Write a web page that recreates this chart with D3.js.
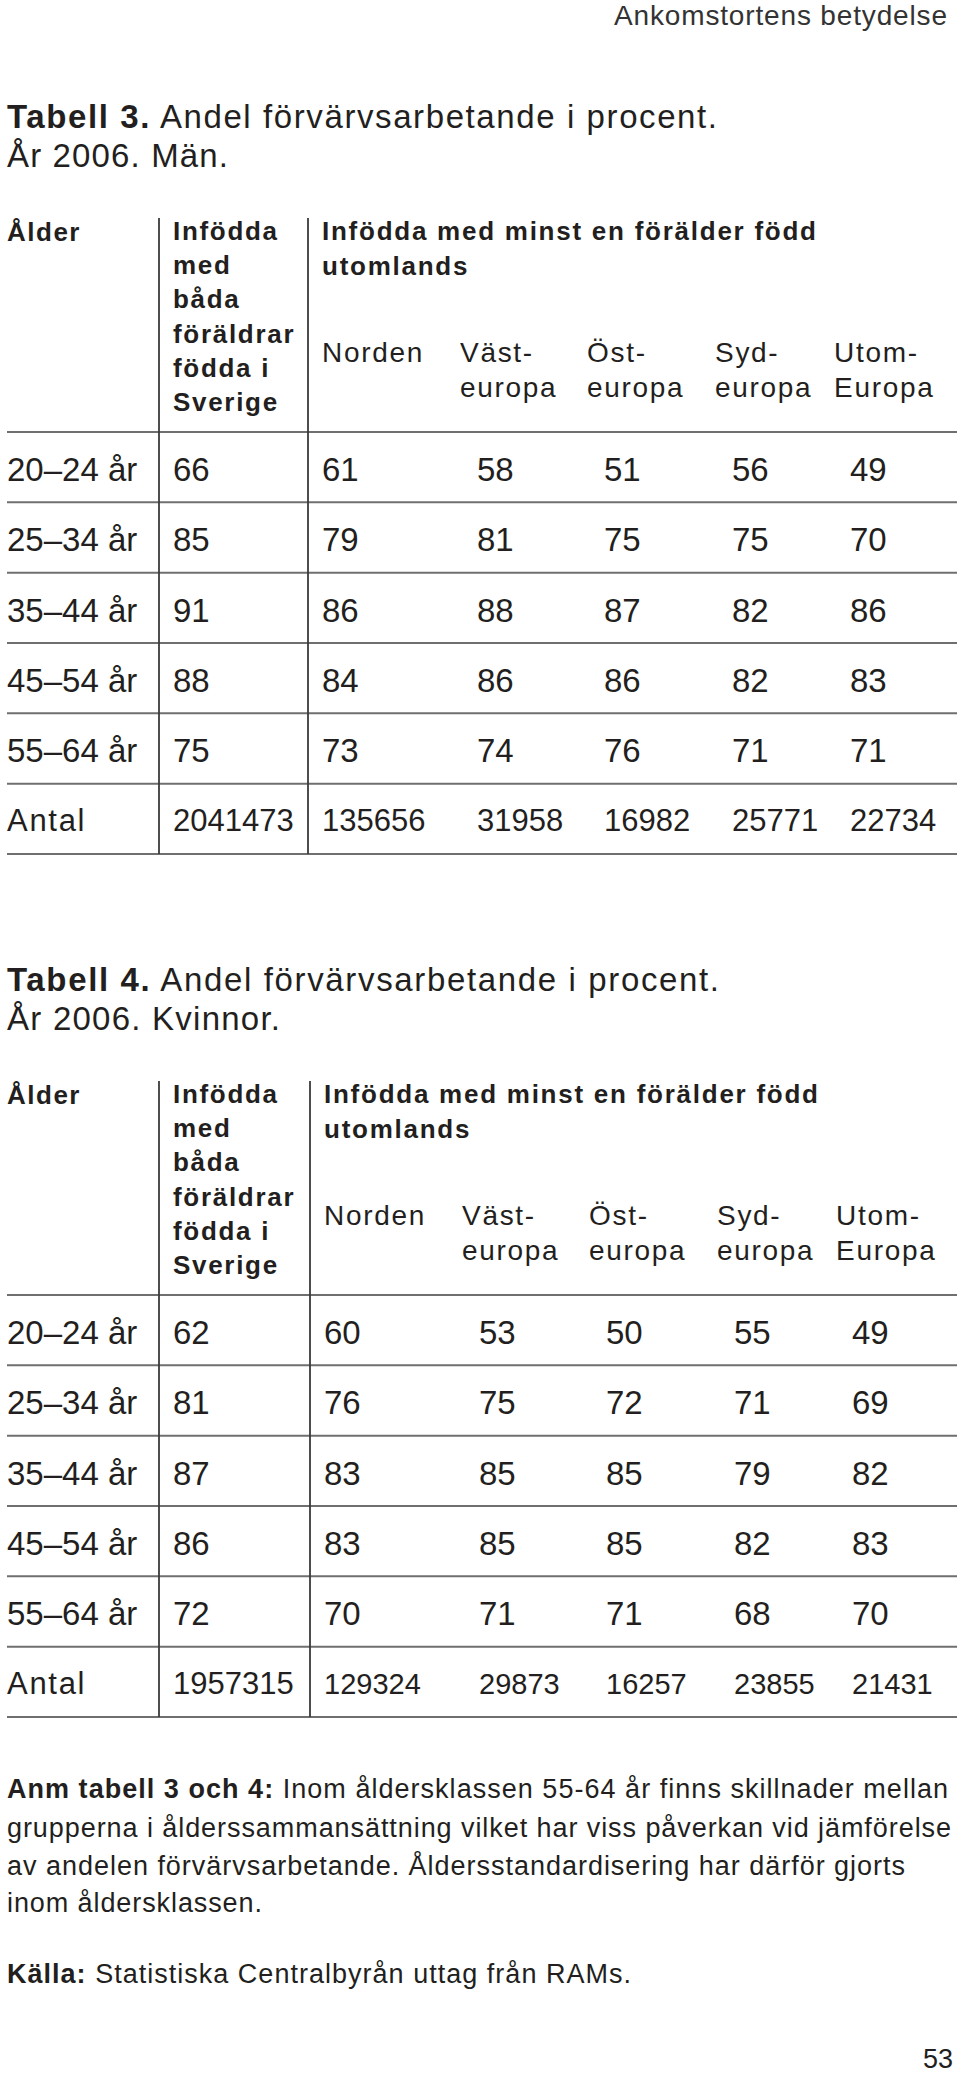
<!DOCTYPE html>
<html>
<head>
<meta charset="utf-8">
<script src="https://cdn.jsdelivr.net/npm/d3@7"></script>
<style>
  html, body { margin: 0; padding: 0; background: #fff; }
  svg { display: block; }
  text { font-family: "Liberation Sans", Arial, Helvetica, sans-serif; fill: #231f20; }
</style>
</head>
<body>
<svg id="chart" width="960" height="2075"></svg>
<script>
// ---------- DATA ----------
const pageHeader = "Ankomstortens betydelse";
const pageNumber = "53";

const ageGroups = ["20–24 år", "25–34 år", "35–44 år", "45–54 år", "55–64 år"];
const countLabel = "Antal";
const columns = ["Sverige", "Norden", "Västeuropa", "Östeuropa", "Sydeuropa", "Utom-Europa"];

const firstColHeader = ["Infödda", "med", "båda", "föräldrar", "födda i", "Sverige"];
const groupHeader = ["Infödda med minst en förälder född", "utomlands"];
const subHeaders = [["Norden"], ["Väst-", "europa"], ["Öst-", "europa"], ["Syd-", "europa"], ["Utom-", "Europa"]];

// Tabell 3 – Män (rows = age groups, columns as above)
const menValues = [
  [66, 61, 58, 51, 56, 49],
  [85, 79, 81, 75, 75, 70],
  [91, 86, 88, 87, 82, 86],
  [88, 84, 86, 86, 82, 83],
  [75, 73, 74, 76, 71, 71]
];
const menCounts = [2041473, 135656, 31958, 16982, 25771, 22734];

// Tabell 4 – Kvinnor
const womenValues = [
  [62, 60, 53, 50, 55, 49],
  [81, 76, 75, 72, 71, 69],
  [87, 83, 85, 85, 79, 82],
  [86, 83, 85, 85, 82, 83],
  [72, 70, 71, 71, 68, 70]
];
const womenCounts = [1957315, 129324, 29873, 16257, 23855, 21431];

const tables = [
  { number: "Tabell 3.", title: " Andel förvärvsarbetande i procent.", sub: "År 2006. Män.",
    values: menValues, counts: menCounts },
  { number: "Tabell 4.", title: " Andel förvärvsarbetande i procent.", sub: "År 2006. Kvinnor.",
    values: womenValues, counts: womenCounts }
];

const noteBold = "Anm tabell 3 och 4:";
const noteLines = [
  " Inom åldersklassen 55-64 år finns skillnader mellan",
  "grupperna i ålderssammansättning vilket har viss påverkan vid jämförelse",
  "av andelen förvärvsarbetande. Åldersstandardisering har därför gjorts",
  "inom åldersklassen."
];
const sourceBold = "Källa:";
const sourceText = " Statistiska Centralbyrån uttag från RAMs.";

// ---------- LAYOUT ----------
const svg = d3.select("#chart");
const L = 7, R = 957;
const tableTops = [432, 1295];
const rowH = 70.33;
const shifts = [0, 2];

// page header
svg.append("text")
  .attr("x", 947).attr("y", 25)
  .attr("text-anchor", "end")
  .attr("font-size", 28)
  .attr("textLength", 333).attr("lengthAdjust", "spacing")
  .style("fill", "#333")
  .text(pageHeader);

function drawTable(t, ti) {
  const top = tableTops[ti];
  const sh = shifts[ti];
  const g = svg.append("g");
  const rows = [...ageGroups, countLabel];

  const y = d3.scaleBand().domain(rows).range([top, top + rowH * rows.length]);
  const xData = d3.scaleOrdinal().domain(columns).range([173, 322 + sh, 477 + sh, 604 + sh, 732 + sh, 850 + sh]);
  const xSub = d3.scaleOrdinal().domain(columns.slice(1)).range([322 + sh, 460 + sh, 587 + sh, 715 + sh, 834 + sh]);
  const vLines = [159, 308 + sh];

  // title
  const tt = g.append("text").attr("x", L).attr("y", top - 304).attr("font-size", 33)
    .attr("textLength", 710 + ti * 2).attr("lengthAdjust", "spacing");
  tt.append("tspan").attr("font-weight", "bold").text(t.number);
  tt.append("tspan").text(t.title);
  g.append("text").attr("x", L).attr("y", top - 265).attr("font-size", 33)
    .attr("textLength", ti === 0 ? 221 : 273).attr("lengthAdjust", "spacing")
    .text(t.sub);

  // header: Ålder
  g.append("text").attr("x", L).attr("y", top - 191)
    .attr("font-size", 26).attr("font-weight", "bold").attr("letter-spacing", 1.5)
    .text("Ålder");

  // first column header
  g.selectAll(".fch").data(firstColHeader).join("text")
    .attr("x", 173).attr("y", (d, i) => top - 192 + i * 34.2)
    .attr("font-size", 26).attr("font-weight", "bold").attr("letter-spacing", 1.7)
    .text(d => d);

  // group header
  g.selectAll(".gh").data(groupHeader).join("text")
    .attr("x", 322 + sh).attr("y", (d, i) => top - 192 + i * 34.6)
    .attr("font-size", 26).attr("font-weight", "bold").attr("letter-spacing", 1.75)
    .text(d => d);

  // sub headers
  subHeaders.forEach((lines, ci) => {
    g.selectAll(null).data(lines).join("text")
      .attr("x", xSub(columns[ci + 1])).attr("y", (d, i) => top - 70 + i * 34.5)
      .attr("font-size", 28).attr("letter-spacing", 1.7)
      .text(d => d);
  });

  // horizontal lines (header bottom + after each row)
  const hl = [top, ...rows.map(r => y(r) + y.bandwidth())];
  g.selectAll(".hl").data(hl).join("line")
    .attr("x1", L).attr("x2", R).attr("y1", d => d).attr("y2", d => d)
    .attr("stroke", "#6f6f6f").attr("stroke-width", 2);

  // vertical lines
  g.selectAll(".vl").data(vLines).join("line")
    .attr("x1", d => d).attr("x2", d => d)
    .attr("y1", top - 214).attr("y2", y(countLabel) + y.bandwidth())
    .attr("stroke", "#3a3a3a").attr("stroke-width", 1.8);

  // row labels
  g.selectAll(".rl").data(ageGroups).join("text")
    .attr("x", L).attr("y", d => y(d) + 49)
    .attr("font-size", 33)
    .text(d => d);
  g.append("text").attr("x", L).attr("y", y(countLabel) + 47)
    .attr("font-size", 31).attr("letter-spacing", 1.7)
    .text(countLabel);

  // values
  t.values.forEach((row, ri) => {
    g.selectAll(null).data(row).join("text")
      .attr("x", (d, ci) => xData(columns[ci]))
      .attr("y", y(ageGroups[ri]) + 49)
      .attr("font-size", 33)
      .text(d => d);
  });

  // counts
  g.selectAll(".cnt").data(t.counts).join("text")
    .attr("x", (d, ci) => xData(columns[ci]))
    .attr("y", y(countLabel) + 47)
    .attr("font-size", (d, ci) => (ti === 1 && ci > 0) ? 29 : 31)
    .text(d => d);
}

tables.forEach(drawTable);

// footnote
const noteY = [1798, 1837, 1875, 1912];
const noteW = [941, 944, 898, 255];
noteLines.forEach((line, i) => {
  const tx = svg.append("text").attr("x", L).attr("y", noteY[i]).attr("font-size", 27)
    .attr("textLength", noteW[i]).attr("lengthAdjust", "spacing");
  if (i === 0) tx.append("tspan").attr("font-weight", "bold").text(noteBold);
  tx.append("tspan").text(line);
});

const src = svg.append("text").attr("x", L).attr("y", 1983).attr("font-size", 27)
  .attr("textLength", 624).attr("lengthAdjust", "spacing");
src.append("tspan").attr("font-weight", "bold").text(sourceBold);
src.append("tspan").text(sourceText);

svg.append("text").attr("x", 953).attr("y", 2068).attr("text-anchor", "end")
  .attr("font-size", 27).text(pageNumber);
</script>
</body>
</html>
